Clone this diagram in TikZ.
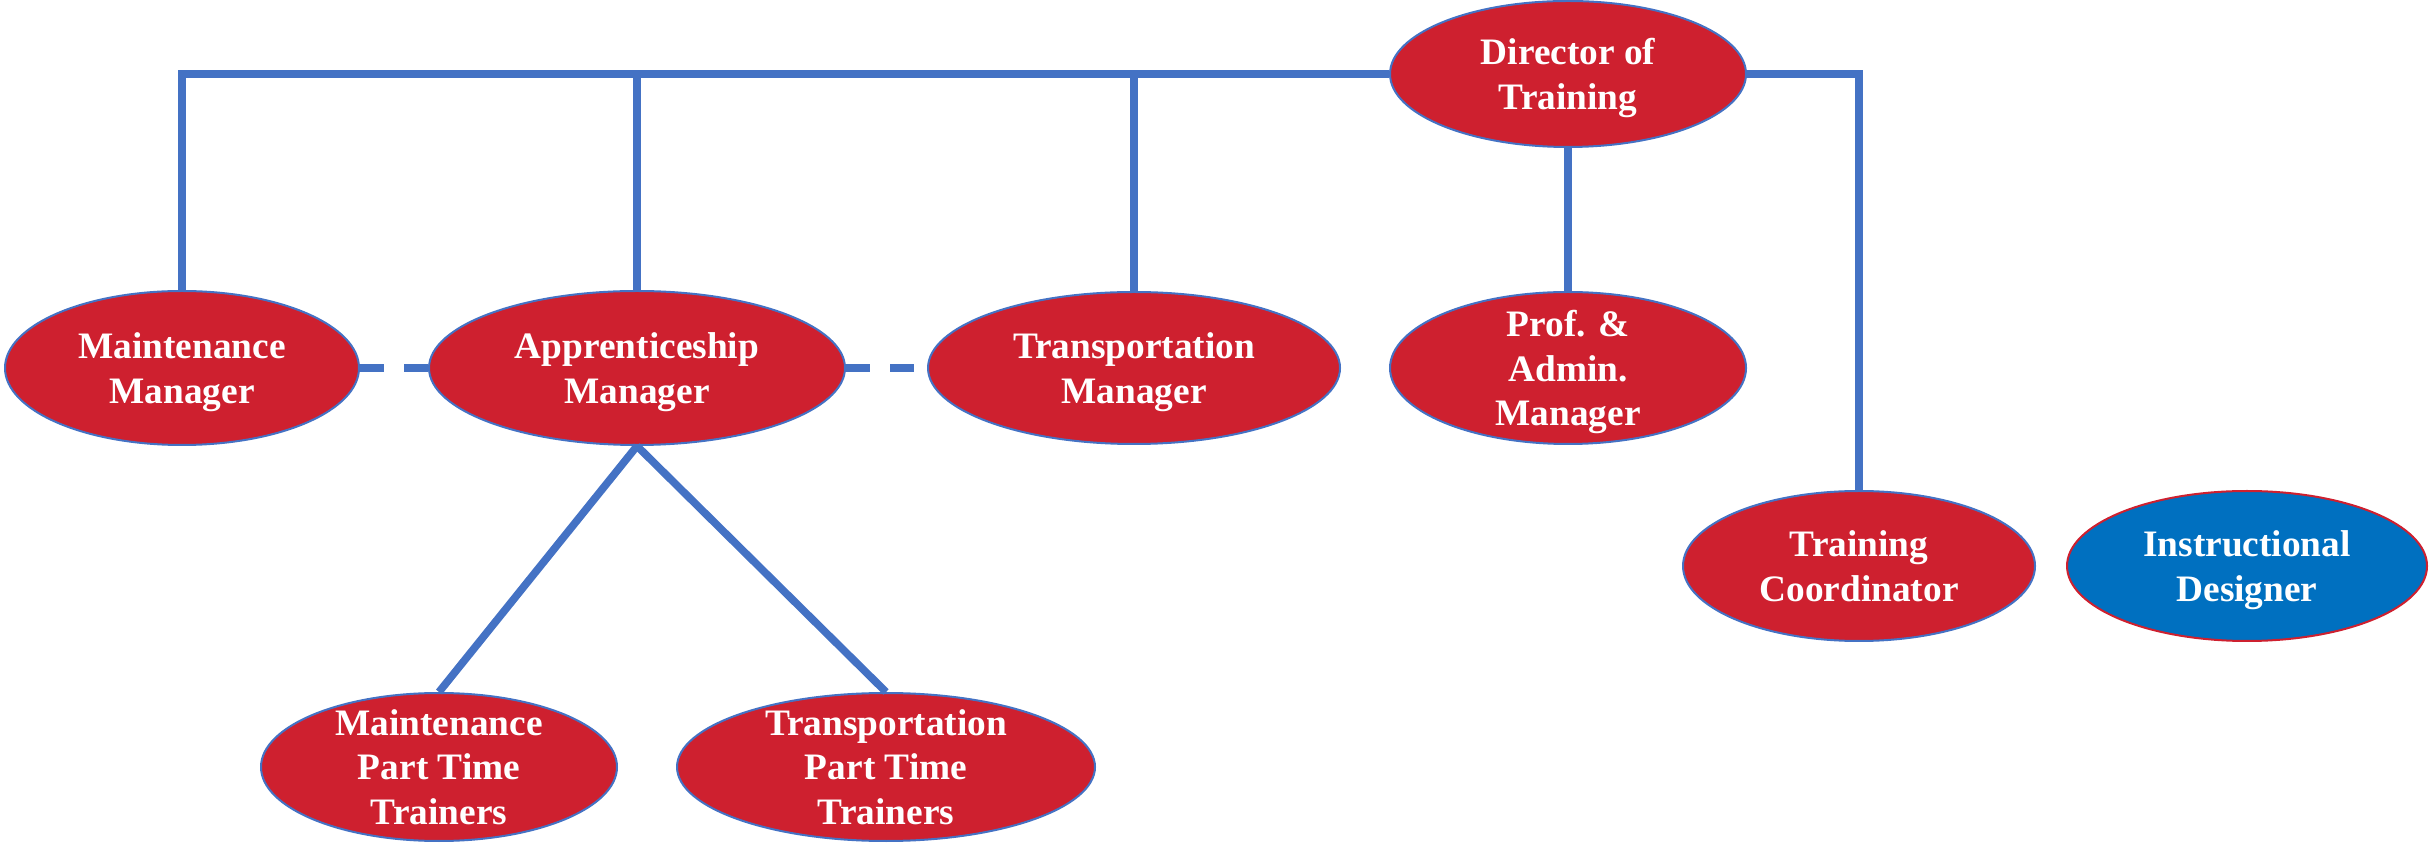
\documentclass[tikz,border=0pt]{standalone}
\usepackage{fontspec}
\setmainfont{Liberation Serif}
\usetikzlibrary{shapes.geometric}

\definecolor{rolered}{RGB}{206,32,47}
\definecolor{roleblue}{RGB}{0,112,192}
\definecolor{linkblue}{RGB}{68,114,196}

\tikzset{
  role/.style={ellipse, fill=rolered, draw=linkblue, line width=0.6pt,
    text=white, align=center, inner sep=-8pt, text depth=0pt,
    font=\bfseries\fontsize{11.2}{13.3}\selectfont},
  link/.style={draw=linkblue, line width=2.3pt},
  dashlink/.style={link, dash pattern=on 7.2pt off 6pt}
}

\begin{document}
\begin{tikzpicture}[x=0.3pt,y=-0.3pt]
  \useasboundingbox (0,0) rectangle (2430,846);

  \node[role, minimum width=106.8pt, minimum height=43.8pt] (dir) at (1568,74) {Director of\\Training};
  \node[role, minimum width=106.2pt, minimum height=46.2pt] (mm) at (182,368) {Maintenance\\Manager};
  \node[role, minimum width=124.8pt, minimum height=46.2pt] (am) at (637,368) {Apprenticeship\\Manager};
  \node[role, minimum width=123.6pt, minimum height=45.6pt] (tm) at (1134,368) {Transportation\\Manager};
  \node[role, minimum width=106.8pt, minimum height=45.6pt] (pam) at (1568,368) {Prof. \&\\Admin.\\Manager};
  \node[role, minimum width=105.6pt, minimum height=45pt] (tc) at (1859,566) {Training\\Coordinator};
  \node[role, fill=roleblue, draw=rolered, minimum width=108pt, minimum height=45pt] (id) at (2247,566) {Instructional\\Designer};
  \node[role, minimum width=106.8pt, minimum height=44.4pt] (mpt) at (439,767) {Maintenance\\Part Time\\Trainers};
  \node[role, minimum width=125.4pt, minimum height=44.4pt] (tpt) at (886,767) {Transportation\\Part Time\\Trainers};

  \draw[link] (mm.north) |- (dir.west);
  \draw[link] (am.north) -- (am.north |- dir.west);
  \draw[link] (tm.north) -- (tm.north |- dir.west);
  \draw[link] (dir.east) -| (tc.north);
  \draw[link] (dir.south) -- (pam.north);
  \draw[link] (am.south) -- (mpt.north);
  \draw[link] (am.south) -- (tpt.north);
  \draw[dashlink] (mm.east) -- (am.west);
  \draw[dashlink] (am.east) -- (tm.west);
\end{tikzpicture}
\end{document}
